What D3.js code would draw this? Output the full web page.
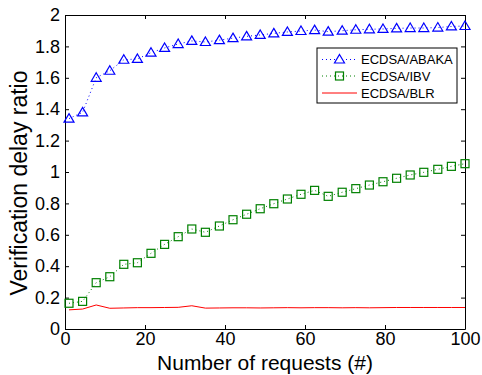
<!DOCTYPE html>
<html>
<head>
<meta charset="utf-8">
<script src="https://cdn.jsdelivr.net/npm/d3@7"></script>
<style>
  body { margin: 0; background: #fff; }
  svg text { font-family: 'Liberation Sans', Arial, Helvetica, sans-serif; fill: #000; }
</style>
</head>
<body>
<svg id="chart" width="482" height="375"></svg>
<script>
/* number of requests (x positions of the samples) */
const requests = [1, 4.4, 7.8, 11.2, 14.7, 18.1, 21.5, 24.9, 28.3, 31.7,
  35.1, 38.6, 42, 45.4, 48.8, 52.2, 55.6, 59, 62.4, 65.8,
  69.3, 72.7, 76.1, 79.5, 82.9, 86.3, 89.7, 93.2, 96.6, 100]

/* series values */
const abaka = [1.34, 1.38, 1.6, 1.645, 1.715, 1.72, 1.76, 1.79, 1.815, 1.835,
  1.828, 1.84, 1.853, 1.864, 1.873, 1.883, 1.892, 1.898, 1.904, 1.894,
  1.9, 1.906, 1.909, 1.911, 1.915, 1.917, 1.917, 1.92, 1.927, 1.93]
const ibv = [0.164, 0.176, 0.295, 0.333, 0.412, 0.422, 0.482, 0.539, 0.588, 0.637,
  0.616, 0.656, 0.696, 0.731, 0.766, 0.798, 0.828, 0.858, 0.883, 0.845,
  0.871, 0.894, 0.917, 0.938, 0.96, 0.981, 0.998, 1.017, 1.036, 1.053]
const blr = [0.122, 0.127, 0.153, 0.132, 0.134, 0.136, 0.136, 0.137, 0.138, 0.148,
  0.133, 0.134, 0.135, 0.135, 0.134, 0.135, 0.136, 0.135, 0.136, 0.136,
  0.135, 0.136, 0.135, 0.136, 0.137, 0.137, 0.137, 0.137, 0.137, 0.137]

/* tick values */
const xTicks = [0, 20, 40, 60, 80, 100]
const yTicks = [0, 0.2, 0.4, 0.6, 0.8, 1, 1.2, 1.4, 1.6, 1.8, 2]

/* legend labels */
const seriesNames = ['ECDSA/ABAKA', 'ECDSA/IBV', 'ECDSA/BLR']

/* plot area */
const margin = { top: 15, left: 65, right: 17, bottom: 46 }
const width = 482 - margin.left - margin.right
const height = 375 - margin.top - margin.bottom

const svg = d3.select('#chart')
const g = svg.append('g').attr('transform', `translate(${margin.left}, ${margin.top})`)

const xScale = d3.scaleLinear().domain([0, 100]).range([0, width])
const yScale = d3.scaleLinear().domain([0, 2]).range([height, 0])

const tickLen = 4

/* fn: strip styling from axes so they look like matlab */
function styleAxis(sel) {
  sel.selectAll('.domain').attr('stroke', '#000').attr('stroke-width', 1)
  sel.selectAll('.tick line').attr('stroke', '#000').attr('stroke-width', 1)
  sel.selectAll('.tick text').style('font-size', '18px')
}

/* bottom and left axes with labels, ticks point inward */
g.append('g')
  .attr('transform', `translate(0, ${height})`)
  .call(d3.axisBottom(xScale).tickValues(xTicks).tickSizeInner(-tickLen).tickSizeOuter(0)
    .tickPadding(3).tickFormat(d3.format('d')))
  .call(styleAxis)

g.append('g')
  .call(d3.axisLeft(yScale).tickValues(yTicks).tickSizeInner(-tickLen).tickSizeOuter(0)
    .tickPadding(5).tickFormat((d) => String(+d.toFixed(1))))
  .call(styleAxis)

/* top and right axes, ticks only */
g.append('g')
  .call(d3.axisTop(xScale).tickValues(xTicks).tickSizeInner(-tickLen).tickSizeOuter(0).tickFormat(''))
  .call(styleAxis)

g.append('g')
  .attr('transform', `translate(${width}, 0)`)
  .call(d3.axisRight(yScale).tickValues(yTicks).tickSizeInner(-tickLen).tickSizeOuter(0).tickFormat(''))
  .call(styleAxis)

/* line generators */
const lineFor = (vals) => d3.line()
  .x((d, i) => xScale(requests[i]))
  .y((d) => yScale(d))(vals)

/* red solid line */
g.append('path')
  .attr('d', lineFor(blr))
  .attr('fill', 'none')
  .attr('stroke', '#ff0000')
  .attr('stroke-width', 1)

/* green dotted line with squares */
g.append('path')
  .attr('d', lineFor(ibv))
  .attr('fill', 'none')
  .attr('stroke', '#008000')
  .attr('stroke-width', 1)
  .attr('stroke-dasharray', '1,3')

g.selectAll('rect.ibv')
  .data(ibv)
  .enter()
  .append('rect')
  .attr('class', 'ibv')
  .attr('x', (d, i) => xScale(requests[i]) - 4)
  .attr('y', (d) => yScale(d) - 4)
  .attr('width', 8)
  .attr('height', 8)
  .attr('fill', 'none')
  .attr('stroke', '#008000')
  .attr('stroke-width', 1.2)

/* blue dotted line with triangles */
g.append('path')
  .attr('d', lineFor(abaka))
  .attr('fill', 'none')
  .attr('stroke', '#0000ff')
  .attr('stroke-width', 1)
  .attr('stroke-dasharray', '1,3')

const triangle = 'M0,-5L5,3.5L-5,3.5Z'

g.selectAll('path.abaka')
  .data(abaka)
  .enter()
  .append('path')
  .attr('class', 'abaka')
  .attr('d', triangle)
  .attr('transform', (d, i) => `translate(${xScale(requests[i])}, ${yScale(d)})`)
  .attr('fill', 'none')
  .attr('stroke', '#0000ff')
  .attr('stroke-width', 1.2)

/* axis labels */
svg.append('text')
  .attr('x', margin.left + width / 2)
  .attr('y', 370)
  .attr('text-anchor', 'middle')
  .style('font-size', '21px')
  .text('Number of requests (#)')

svg.append('text')
  .attr('transform', 'translate(27, 183) rotate(-90)')
  .attr('text-anchor', 'middle')
  .style('font-size', '23px')
  .text('Verification delay ratio')

/* legend */
const legend = svg.append('g').attr('transform', 'translate(317, 48)')
legend.append('rect')
  .attr('width', 140)
  .attr('height', 55)
  .attr('fill', '#fff')
  .attr('stroke', '#000')
  .attr('stroke-width', 1)

const legendColors = ['#0000ff', '#008000', '#ff0000']
const rowY = [11.5, 28, 45]

seriesNames.forEach(function (name, i) {
  const row = legend.append('g').attr('transform', `translate(0, ${rowY[i]})`)
  row.append('line')
    .attr('x1', 5).attr('x2', 40).attr('y1', 0).attr('y2', 0)
    .attr('stroke', legendColors[i])
    .attr('stroke-width', 1)
    .attr('stroke-dasharray', i < 2 ? '1,3' : null)
  if (i === 0) {
    row.append('path').attr('d', triangle).attr('transform', 'translate(22.5, 0)')
      .attr('fill', '#fff').attr('stroke', legendColors[i]).attr('stroke-width', 1.2)
  } else if (i === 1) {
    row.append('rect').attr('x', 18.5).attr('y', -4).attr('width', 8).attr('height', 8)
      .attr('fill', 'none').attr('stroke', legendColors[i]).attr('stroke-width', 1.2)
  }
  row.append('text')
    .attr('x', 44)
    .attr('y', 0)
    .attr('dy', '0.36em')
    .style('font-size', '13px')
    .text(name)
})
</script>
</body>
</html>
